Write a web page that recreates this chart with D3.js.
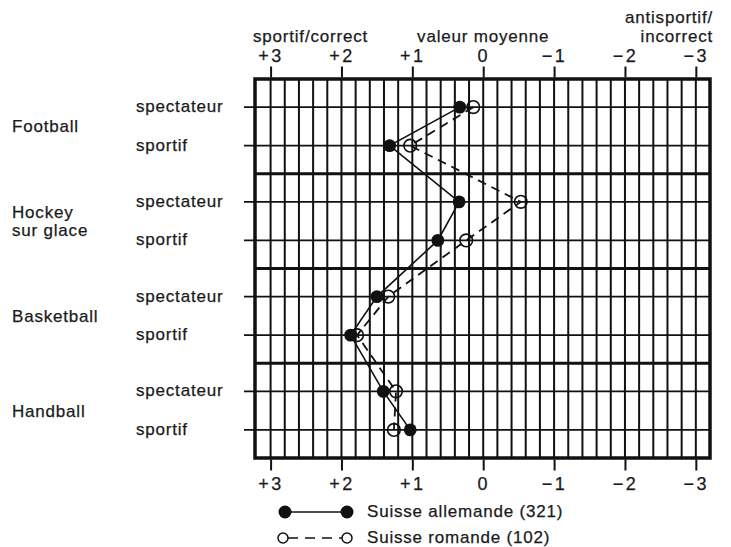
<!DOCTYPE html>
<html><head><meta charset="utf-8">
<script src="https://cdn.jsdelivr.net/npm/d3@7"></script>
<style>
html,body{margin:0;padding:0;background:#fff;}
text{font-family:"Liberation Sans",Arial,Helvetica,sans-serif;font-size:17px;fill:#1a1a1a;letter-spacing:0.8px;stroke:#1a1a1a;stroke-width:0.25px;}
</style></head>
<body>
<svg id="chart" width="731" height="547"></svg>
<script>
const groups = ["Football", "Hockey sur glace", "Basketball", "Handball"];
const groupLabelLines = [["Football"], ["Hockey", "sur glace"], ["Basketball"], ["Handball"]];
const roles = ["spectateur", "sportif"];
const allemande = [0.33, 1.32, 0.34, 0.64, 1.50, 1.87, 1.41, 1.03];
const romande = [0.14, 1.03, -0.53, 0.24, 1.34, 1.78, 1.23, 1.26];
const tickValues = [3, 2, 1, 0, -1, -2, -3];
const tickLabels = ["+3", "+2", "+1", "0", "\u22121", "\u22122", "\u22123"];
const seriesNames = ["Suisse allemande (321)", "Suisse romande (102)"];

const svg = d3.select("#chart");
const L = 255, R = 710, T = 79, B = 458;
const ink = "#111";

const x = d3.scaleLinear().domain([3.22, -3.2]).range([L, R]);
const gy = d3.scaleBand().domain(groups).range([T, B]).paddingInner(0).paddingOuter(0);
const ry = d3.scalePoint().domain(roles).range([0, gy.bandwidth()]).padding(0.73);

const rows = [];
groups.forEach((g, gi) => roles.forEach((r, ri) => rows.push({g, r, i: gi * 2 + ri})));
const rowY = d => gy(d.g) + ry(d.r);

// vertical grid every 0.2
const gridVals = d3.range(-15, 16).map(k => k / 5);
svg.append("g").selectAll("line").data(gridVals).join("line")
  .attr("x1", d => x(d)).attr("x2", d => x(d)).attr("y1", T).attr("y2", B)
  .attr("stroke", ink).attr("stroke-width", 2);

// row lines
svg.append("g").selectAll("line").data(rows).join("line")
  .attr("x1", L - 11).attr("x2", R).attr("y1", rowY).attr("y2", rowY)
  .attr("stroke", ink).attr("stroke-width", 1.9);

// group separators
svg.append("g").selectAll("line").data(groups.slice(1)).join("line")
  .attr("x1", L).attr("x2", R).attr("y1", d => gy(d)).attr("y2", d => gy(d))
  .attr("stroke", ink).attr("stroke-width", 3);

// frame
svg.append("rect").attr("x", L).attr("y", T).attr("width", R - L).attr("height", B - T)
  .attr("fill", "none").attr("stroke", ink).attr("stroke-width", 3.5);

// axes top & bottom
const axTop = d3.axisTop(x).tickValues(tickValues).tickSize(11).tickPadding(5)
  .tickFormat((d, i) => tickLabels[i]);
const axBot = d3.axisBottom(x).tickValues(tickValues).tickSize(11).tickPadding(7)
  .tickFormat((d, i) => tickLabels[i]);
function styleAxis(g) {
  g.select(".domain").remove();
  g.selectAll(".tick line").attr("stroke", ink).attr("stroke-width", 2);
  g.selectAll(".tick text").attr("fill", "#1a1a1a")
    .style("font-size", "18px").style("letter-spacing", "2.5px")
    .attr("font-family", null);
}
svg.append("g").attr("transform", `translate(0,${T - 1.5})`).call(axTop).call(styleAxis);
svg.append("g").attr("transform", `translate(0,${B + 1.5})`).call(axBot).call(styleAxis);

// top titles
svg.append("text").attr("x", 253).attr("y", 42).text("sportif/correct");
svg.append("text").attr("x", x(0)).attr("y", 42).attr("text-anchor", "middle").text("valeur moyenne");
svg.append("text").attr("x", 713).attr("y", 23).attr("text-anchor", "end").text("antisportif/");
svg.append("text").attr("x", 713).attr("y", 42).attr("text-anchor", "end").text("incorrect");

// left labels
svg.append("g").selectAll("text").data(rows).join("text")
  .attr("x", 136).attr("y", d => rowY(d) + 5).text(d => d.r);
groups.forEach((g, gi) => {
  const lines = groupLabelLines[gi];
  const mid = gy(g) + (ry(roles[0]) + ry(roles[1])) / 2;
  lines.forEach((t, li) => {
    svg.append("text").attr("x", 12)
      .attr("y", mid + 6 + (li - (lines.length - 1) / 2) * 18)
      .text(t);
  });
});

// series
const line = d3.line().x(d => x(d.v)).y(d => rowY(rows[d.i]));
const dA = allemande.map((v, i) => ({v, i}));
const dR = romande.map((v, i) => ({v, i}));
svg.append("path").datum(dR).attr("d", line).attr("fill", "none")
  .attr("stroke", ink).attr("stroke-width", 1.8).attr("stroke-dasharray", "9,6");
svg.append("path").datum(dA).attr("d", line).attr("fill", "none")
  .attr("stroke", ink).attr("stroke-width", 1.6);
svg.append("g").selectAll("circle").data(dR).join("circle")
  .attr("cx", d => x(d.v)).attr("cy", d => rowY(rows[d.i])).attr("r", 6.3)
  .attr("fill", "none").attr("stroke", ink).attr("stroke-width", 1.6);
svg.append("g").selectAll("circle").data(dA).join("circle")
  .attr("cx", d => x(d.v)).attr("cy", d => rowY(rows[d.i])).attr("r", 6.4)
  .attr("fill", ink);

// legend
const lg = svg.append("g");
lg.append("line").attr("x1", 285).attr("x2", 347).attr("y1", 512).attr("y2", 512)
  .attr("stroke", ink).attr("stroke-width", 1.6);
lg.selectAll("circle.a").data([285, 347]).join("circle").attr("class", "a")
  .attr("cx", d => d).attr("cy", 512).attr("r", 6.5).attr("fill", ink);
lg.append("text").attr("x", 367).attr("y", 517).text(seriesNames[0]);
lg.append("line").attr("x1", 288).attr("x2", 342).attr("y1", 538).attr("y2", 538)
  .attr("stroke", ink).attr("stroke-width", 1.6).attr("stroke-dasharray", "10,7");
lg.selectAll("circle.b").data([283, 347]).join("circle").attr("class", "b")
  .attr("cx", d => d).attr("cy", 538).attr("r", 5).attr("fill", "#fff")
  .attr("stroke", ink).attr("stroke-width", 1.5);
lg.append("text").attr("x", 367).attr("y", 543).text(seriesNames[1]);
</script>
</body></html>
